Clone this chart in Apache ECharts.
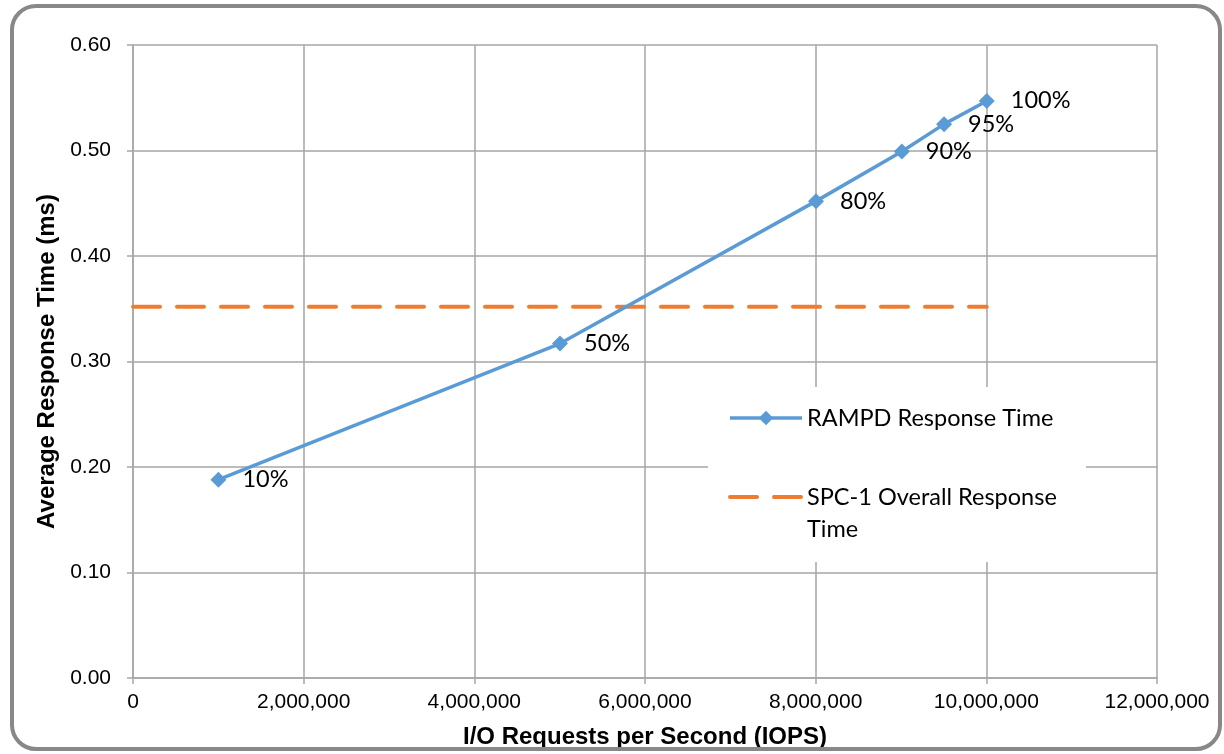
<!DOCTYPE html>
<html>
<head>
<meta charset="utf-8">
<script src="https://cdn.jsdelivr.net/npm/echarts@6/dist/echarts.min.js"></script>
<style>
html,body{margin:0;padding:0;background:#fff;overflow:hidden;}
#chart{width:1224px;height:754px;}
</style>
</head>
<body>
<div id="chart"></div>
<script>
// Data
const loadLabels = ['10%', '50%', '80%', '90%', '95%', '100%'];
const iops = [1001000, 5004000, 8004000, 9010000, 9505000, 10005000];
const responseTime = [0.188, 0.317, 0.452, 0.499, 0.525, 0.547];
const overallResponseTime = 0.352;
const xTicks = { min: 0, max: 12000000, interval: 2000000 };
const yTicks = { min: 0, max: 0.6, interval: 0.1 };
const seriesNames = ['RAMPD Response Time', 'SPC-1 Overall Response Time'];

const chart = echarts.init(document.getElementById('chart'), null, { renderer: 'canvas', width: 1224, height: 754 });

const rampdData = iops.map((x, i) => ({ value: [x, responseTime[i]], label: { formatter: loadLabels[i] } }));
const overallData = [[0, overallResponseTime], [iops[iops.length - 1], overallResponseTime]];

const fmtThousands = v => String(Math.round(v)).replace(/\B(?=(\d{3})+(?!\d))/g, ',');

chart.setOption({
  animation: false,
  backgroundColor: '#fff',
  graphic: [{
    type: 'rect',
    shape: { x: 12, y: 6, width: 1208, height: 743, r: 24 },
    style: { fill: 'none', stroke: '#888888', lineWidth: 4 },
    silent: true, z: 100
  }],
  grid: { left: 133, width: 1024, top: 45, height: 635, containLabel: false },
  xAxis: {
    type: 'value',
    min: xTicks.min, max: xTicks.max, interval: xTicks.interval,
    name: 'I/O Requests per Second (IOPS)',
    nameLocation: 'middle', nameGap: 47,
    nameTextStyle: { fontFamily: 'Liberation Sans', fontWeight: 'bold', fontSize: 24, color: '#000', verticalAlign: 'top' },
    axisLine: { show: true, lineStyle: { color: '#a6a6a6', width: 1.5 } },
    axisTick: { show: true, length: 6, lineStyle: { color: '#a6a6a6', width: 1.5 } },
    axisLabel: { formatter: fmtThousands, fontFamily: 'Liberation Sans', fontSize: 21, color: '#000', margin: 14 },
    splitLine: { show: true, lineStyle: { color: '#a6a6a6', width: 1.5 } }
  },
  yAxis: {
    type: 'value',
    min: yTicks.min, max: yTicks.max, interval: yTicks.interval,
    name: 'Average Response Time (ms)',
    nameLocation: 'middle', nameGap: 74, nameRotate: 90,
    nameTextStyle: { fontFamily: 'Liberation Sans', fontWeight: 'bold', fontSize: 24, color: '#000', verticalAlign: 'bottom' },
    axisLine: { show: true, lineStyle: { color: '#a6a6a6', width: 1.5 } },
    axisTick: { show: true, length: 6, lineStyle: { color: '#a6a6a6', width: 1.5 } },
    axisLabel: { formatter: v => v.toFixed(2), fontFamily: 'Liberation Sans', fontSize: 21, color: '#000', margin: 22 },
    splitLine: { show: true, lineStyle: { color: '#a6a6a6', width: 1.5 } }
  },
  legend: {
    orient: 'vertical',
    left: 708, top: 387,
    padding: [15, 17, 17, 20],
    backgroundColor: '#fff',
    itemWidth: 72, itemHeight: 18, itemGap: 15,
    textStyle: { fontFamily: 'Lato', fontSize: 23.5, color: '#000', lineHeight: 32, width: 262 },
    formatter: name => name === seriesNames[1] ? ' \nSPC-1 Overall Response\nTime' : name,
    data: [
      { name: seriesNames[0], lineStyle: { width: 3.5 } },
      { name: seriesNames[1], itemStyle: { color: 'rgba(0,0,0,0)', borderWidth: 0 }, lineStyle: { width: 4 } }
    ]
  },
  series: [{
    name: seriesNames[0],
    type: 'line',
    data: rampdData,
    symbol: 'diamond', symbolSize: 16,
    itemStyle: { color: '#5B9BD5' },
    lineStyle: { color: '#5B9BD5', width: 3.5 },
    label: { show: true, position: 'right', distance: 16, fontFamily: 'Lato', fontSize: 23.5, color: '#000' },
    z: 3
  }, {
    name: seriesNames[1],
    type: 'line',
    data: overallData,
    symbol: 'none',
    itemStyle: { color: '#ED7D31' },
    lineStyle: { color: '#ED7D31', width: 4, type: [27, 17], cap: 'round' },
    z: 2
  }]
});
</script>
</body>
</html>
